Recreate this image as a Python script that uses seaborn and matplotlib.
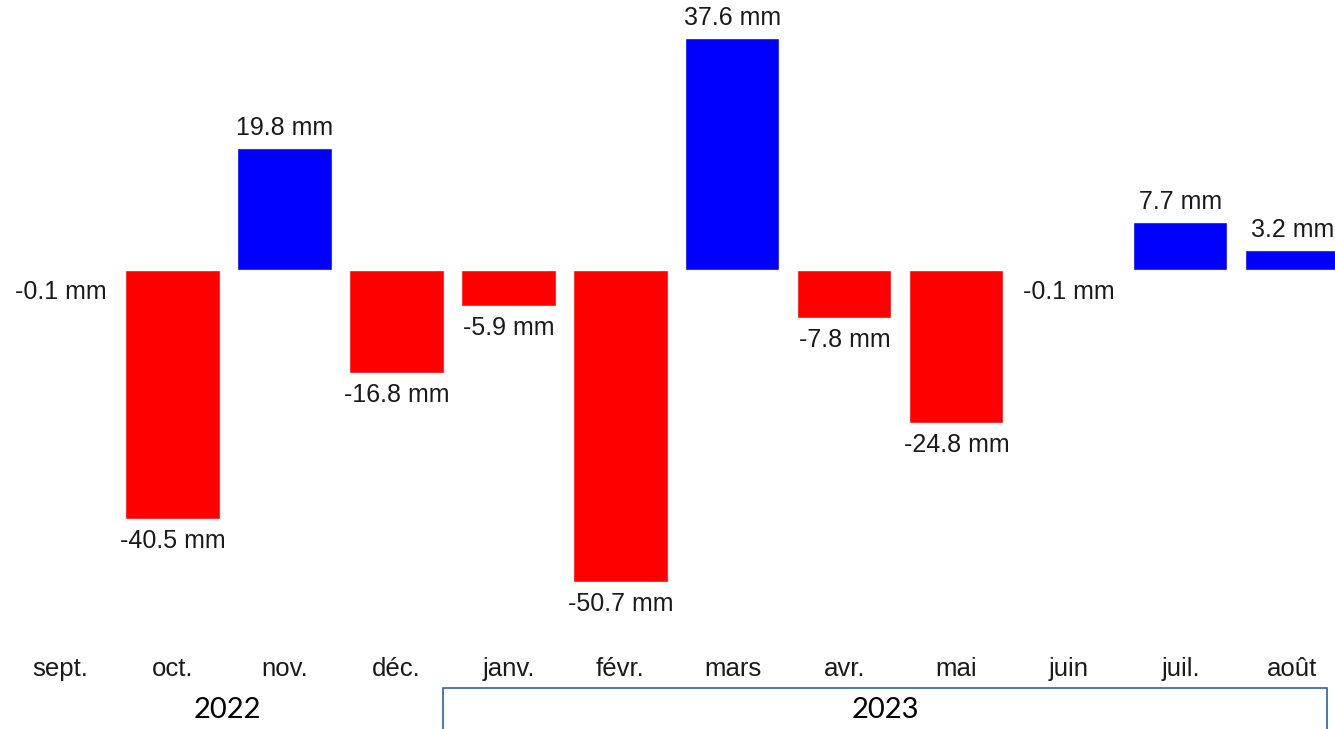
import matplotlib
matplotlib.use("Agg")
import matplotlib.pyplot as plt
import seaborn as sns
import pandas as pd
from matplotlib.patches import Rectangle

months = ["sept.", "oct.", "nov.", "déc.", "janv.", "févr.", "mars", "avr.", "mai", "juin", "juil.", "août"]
values = [-0.1, -40.5, 19.8, -16.8, -5.9, -50.7, 37.6, -7.8, -24.8, -0.1, 7.7, 3.2]
years = ["2022", "2023"]

sns.set_theme(style="white")
plt.rcParams['font.family'] = ['Liberation Sans', 'DejaVu Sans']

df = pd.DataFrame({"month": months, "value": values})
df["sign"] = ["pos" if v > 0 else "neg" for v in values]

fig = plt.figure(figsize=(13.35, 7.29), dpi=100)
ax = fig.add_axes([0, 1 - 640 / 729, 1, 640 / 729])
sns.barplot(data=df, x="month", y="value", hue="sign", palette={"pos": "#0000ff", "neg": "#ff0000"},
            width=0.84, dodge=False, legend=False, ax=ax, saturation=1)
ax.set_xlim(-0.54, 11.38)
ax.set_ylim(-60.1, 43.8)
ax.axis("off")

for i, v in enumerate(values):
    off = 20 if v > 0 else -22
    ax.annotate(f"{v:.1f} mm", (i, v), xytext=(0, off), textcoords="offset pixels",
                ha="center", va="center", fontsize=18, color="#1a1a1a")

# month labels
for i, m in enumerate(months):
    x_fig = (i + 0.54) / (11.38 + 0.54)
    fig.text(x_fig, 1 - 669 / 729, m, ha="center", va="center", fontsize=18.5, color="#1a1a1a")

# year labels
fig.text(227 / 1335, 1 - 710 / 729, years[0], ha="center", va="center", fontsize=21,
         family=['Lato', 'DejaVu Sans'], color="black")
fig.text(885 / 1335, 1 - 710 / 729, years[1], ha="center", va="center", fontsize=21,
         family=['Lato', 'DejaVu Sans'], color="black")
fig.patches.append(Rectangle((443 / 1335, -0.01), (1327 - 443) / 1335, (729 - 688) / 729 + 0.01,
                             transform=fig.transFigure, fill=False, edgecolor="#2e6496", linewidth=1.2))

fig.savefig("out.png", dpi=100, facecolor="white")
